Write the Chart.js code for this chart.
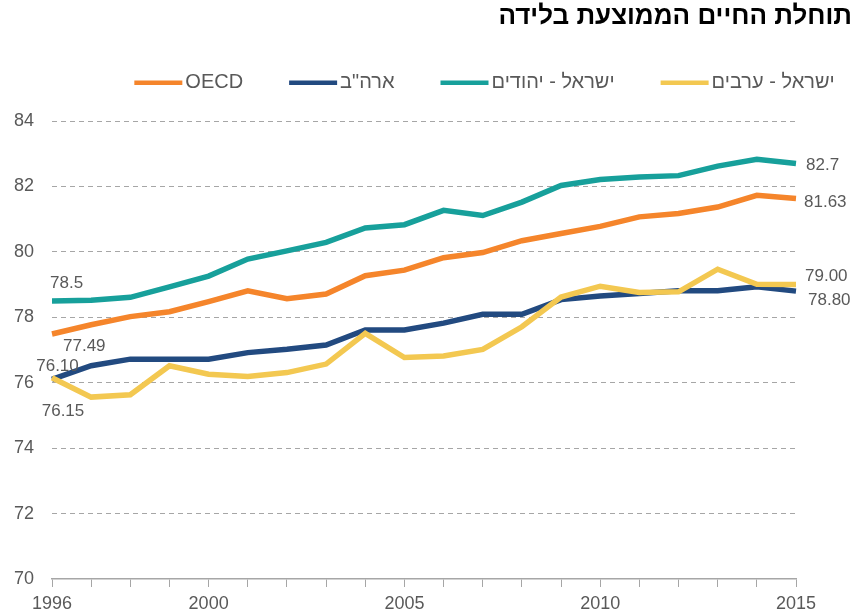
<!DOCTYPE html>
<html>
<head>
<meta charset="utf-8">
<script src="https://cdn.jsdelivr.net/npm/chart.js@4.4.1/dist/chart.umd.min.js"></script>
<style>
  html, body { margin: 0; padding: 0; background: #ffffff; }
  #wrap { width: 854px; height: 615px; position: relative; }
</style>
</head>
<body>
<div id="wrap"><canvas id="chart" width="854" height="615"></canvas></div>
<script>
// ---- data ----
const chartTitle = 'תוחלת החיים הממוצעת בלידה';
const years = ['1996','1997','1998','1999','2000','2001','2002','2003','2004','2005',
               '2006','2007','2008','2009','2010','2011','2012','2013','2014','2015'];
const shownYears = ['1996','2000','2005','2010','2015'];
const yTicks = [70, 72, 74, 76, 78, 80, 82, 84];

const nameArabs = 'ישראל - ערבים';
const nameJews = 'ישראל - יהודים';
const nameUSA = 'ארה"ב';
const nameOECD = 'OECD';

const arabs = [76.15, 75.56, 75.63, 76.52, 76.26, 76.19, 76.31, 76.57, 77.51, 76.77,
               76.82, 77.02, 77.71, 78.62, 78.95, 78.76, 78.78, 79.47, 79.01, 79.00];
const jews  = [78.5, 78.52, 78.61, 78.93, 79.26, 79.78, 80.03, 80.29, 80.73, 80.83,
               81.27, 81.11, 81.52, 82.03, 82.21, 82.29, 82.33, 82.62, 82.83, 82.7];
const usa   = [76.10, 76.52, 76.72, 76.72, 76.72, 76.92, 77.02, 77.15, 77.61, 77.61,
               77.82, 78.09, 78.09, 78.54, 78.65, 78.73, 78.81, 78.81, 78.93, 78.80];
const oecd  = [77.49, 77.77, 78.02, 78.17, 78.48, 78.81, 78.57, 78.71, 79.27, 79.44,
               79.82, 79.98, 80.34, 80.56, 80.78, 81.07, 81.17, 81.37, 81.73, 81.63];

// ---- styles ----
const FONT = '"Liberation Sans", Arial, "DejaVu Sans", sans-serif';
const TEXT = '#595959';
const GRID = '#a6a6a6';
const colors = { arabs: '#F3C851', jews: '#17A09B', usa: '#224A80', oecd: '#F5852B' };

// label placement relative to first / last point: [start, end]
const labelPlacement = {
  arabs: [{ dx: 11, dy: 34, align: 'center' }, { dx: 9, dy: -8, align: 'left' }],
  jews:  [{ dx: -2, dy: -18, align: 'left' }, { dx: 10, dy: 1.5, align: 'left' }],
  usa:   [{ dx: 5.5, dy: -13, align: 'center' }, { dx: 12, dy: 9, align: 'left' }],
  oecd:  [{ dx: 11, dy: 12, align: 'left' }, { dx: 8, dy: 4, align: 'left' }]
};

const endLabels = {
  id: 'endLabels',
  afterDatasetsDraw(chart) {
    const ctx = chart.ctx, xs = chart.scales.x, ys = chart.scales.y;
    ctx.save();
    ctx.font = '17px ' + FONT;
    ctx.fillStyle = TEXT;
    ctx.textBaseline = 'middle';
    chart.data.datasets.forEach(ds => {
      const pl = labelPlacement[ds.key];
      [0, ds.data.length - 1].forEach((idx, k) => {
        const v = ds.data[idx];
        const px = xs.getPixelForValue(idx), py = ys.getPixelForValue(v);
        ctx.textAlign = pl[k].align;
        ctx.fillText(v.toFixed(ds.decimals), px + pl[k].dx, py + pl[k].dy);
      });
    });
    ctx.restore();
  }
};

const titleAndLegend = {
  id: 'titleAndLegend',
  afterDraw(chart) {
    const ctx = chart.ctx;
    ctx.save();
    // title
    ctx.font = 'bold 26px ' + FONT;
    ctx.fillStyle = '#000000';
    ctx.textAlign = 'right';
    ctx.textBaseline = 'middle';
    ctx.fillText(chartTitle, 852, 17);
    // legend (left to right: OECD, USA, Jews, Arabs)
    const items = chart.data.datasets.slice().reverse();
    ctx.font = '20px ' + FONT;
    const sw = 48, gapText = 3, gapItem = 46;
    const widths = items.map(ds => sw + gapText + ctx.measureText(ds.label).width);
    const total = widths.reduce((a, b) => a + b, 0) + gapItem * (items.length - 1);
    let x = 484.5 - total / 2;
    const y = 82.5;
    ctx.textAlign = 'left';
    items.forEach((ds, i) => {
      ctx.fillStyle = ds.borderColor;
      ctx.fillRect(x, y - 2, sw, 4.5);
      ctx.fillStyle = TEXT;
      ctx.fillText(ds.label, x + sw + gapText, y);
      x += widths[i] + gapItem;
    });
    ctx.restore();
  }
};

const mk = (key, label, data, decimals) => ({
  key, label, data, decimals,
  borderColor: colors[key], backgroundColor: colors[key],
  borderWidth: 5.5, pointRadius: 0, pointHoverRadius: 0, tension: 0, fill: false
});

new Chart(document.getElementById('chart'), {
  type: 'line',
  data: {
    labels: years,
    datasets: [
      mk('arabs', nameArabs, arabs, 2),
      mk('jews', nameJews, jews, 1),
      mk('usa', nameUSA, usa, 2),
      mk('oecd', nameOECD, oecd, 2)
    ]
  },
  options: {
    responsive: false,
    animation: false,
    devicePixelRatio: 1,
    layout: { padding: { top: 121, right: 58, bottom: 0, left: 0 } },
    plugins: { legend: { display: false }, title: { display: false }, tooltip: { enabled: false } },
    scales: {
      x: {
        type: 'category',
        offset: false,
        afterFit(scale) { scale.height = 36; },
        grid: { offset: false, drawOnChartArea: false, drawTicks: true, tickLength: 8, color: GRID, lineWidth: 1 },
        border: { display: true, color: GRID, width: 1.5 },
        ticks: {
          autoSkip: false, maxRotation: 0, minRotation: 0, padding: 6,
          color: TEXT, font: { family: FONT, size: 18 },
          callback(value) { const l = this.getLabelForValue(value); return shownYears.includes(l) ? l : ''; }
        }
      },
      y: {
        min: 70, max: 84,
        afterFit(scale) { scale.width = 52; },
        afterBuildTicks(scale) { scale.ticks = yTicks.map(v => ({ value: v })); },
        grid: {
          drawTicks: false,
          color: ctx => (ctx.tick && ctx.tick.value === 70) ? 'rgba(0,0,0,0)' : GRID,
          lineWidth: 1
        },
        border: { display: false, dash: [5, 4] },
        ticks: { padding: 18, color: TEXT, font: { family: FONT, size: 18 } }
      }
    }
  },
  plugins: [endLabels, titleAndLegend]
});
</script>
</body>
</html>
